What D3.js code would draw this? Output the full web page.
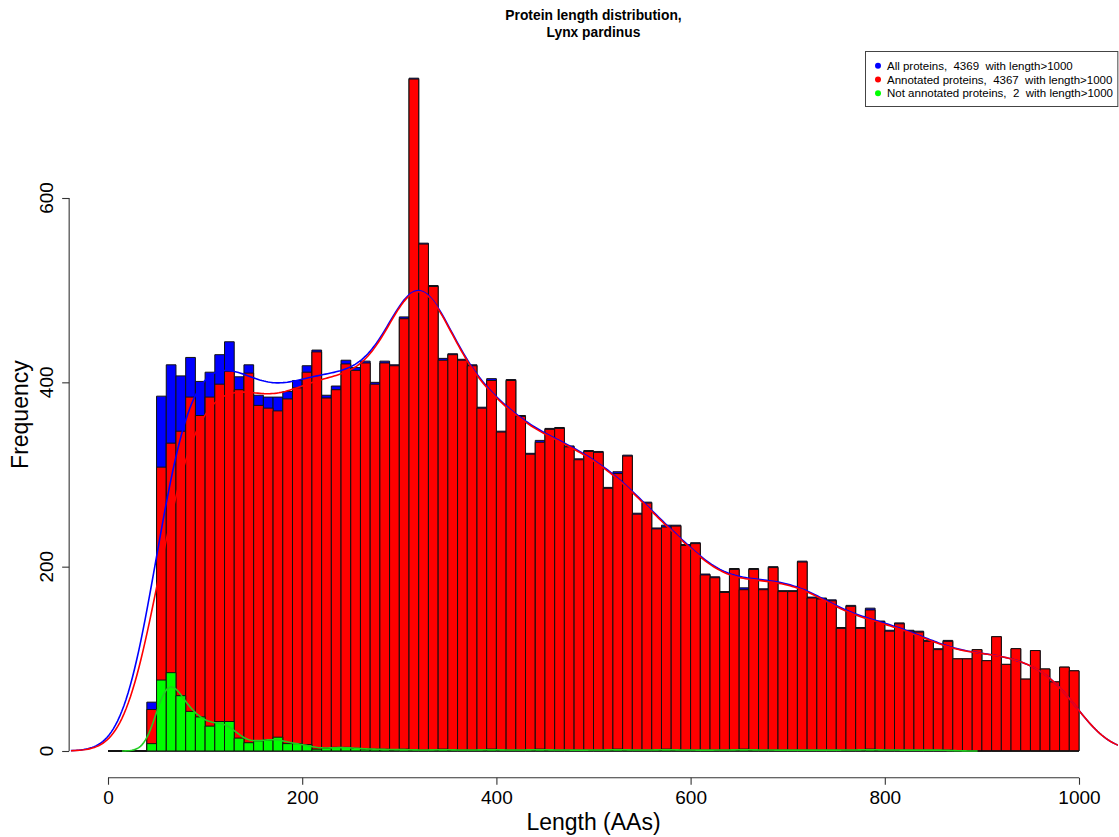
<!DOCTYPE html>
<html>
<head>
<meta charset="utf-8">
<script src="https://cdn.jsdelivr.net/npm/d3@7"></script>
<style>
  body { margin: 0; background: #fff; }
  text { font-family: "Liberation Sans", Arial, Helvetica, sans-serif; }
</style>
</head>
<body>
<svg id="chart" width="1119" height="837"></svg>
<script>
// Histogram breaks (bin width 10 AAs, 0..1000)
const breaks = d3.range(0, 1001, 10);

// Counts per bin
const allProteins = [
  0, 0, 0, 0, 53, 385, 419, 407, 427, 401,
  411, 430, 444, 406, 419, 386, 384, 384, 390, 402,
  418, 435, 386, 396, 424, 416, 423, 400, 423, 419,
  471, 730, 551, 505, 426, 431, 425, 419, 373, 404,
  347, 403, 364, 323, 337, 350, 351, 331, 317, 326,
  325, 286, 303, 321, 258, 270, 242, 245, 245, 224,
  226, 192, 189, 173, 198, 177, 198, 176, 200, 174,
  174, 206, 167, 166, 164, 134, 158, 134, 155, 141,
  131, 139, 131, 130, 120, 111, 120, 100, 100, 110,
  98, 124, 94, 111, 78, 109, 89, 75, 91, 87
];
const annotated = [
  0, 0, 0, 0, 45, 308, 334, 347, 384, 364,
  384, 398, 412, 392, 410, 375, 372, 369, 382, 394,
  411, 433, 383, 392, 420, 413, 421, 398, 421, 418,
  469, 729, 550, 504, 424, 430, 424, 418, 372, 402,
  346, 402, 363, 322, 335, 349, 350, 330, 316, 325,
  324, 285, 301, 320, 257, 269, 241, 243, 244, 223,
  225, 191, 188, 172, 197, 175, 197, 175, 199, 173,
  173, 205, 166, 165, 163, 133, 157, 133, 153, 140,
  130, 138, 130, 129, 119, 110, 119, 100, 100, 110,
  98, 124, 94, 111, 78, 109, 89, 75, 91, 87
];
const notAnnotated = [
  0, 0, 0, 0, 8, 77, 85, 60, 43, 37,
  27, 32, 32, 14, 9, 11, 12, 15, 8, 8,
  7, 2, 3, 4, 4, 3, 2, 2, 2, 1,
  2, 1, 1, 1, 2, 1, 1, 1, 1, 2,
  1, 1, 1, 1, 2, 1, 1, 1, 1, 1,
  1, 1, 2, 1, 1, 1, 1, 2, 1, 1,
  1, 1, 1, 1, 1, 2, 1, 1, 1, 1,
  1, 1, 1, 1, 1, 1, 1, 1, 2, 1,
  1, 1, 1, 1, 1, 1, 1, 0, 0, 0,
  0, 0, 0, 0, 0, 0, 0, 0, 0, 0
];

const xTicks = [0, 200, 400, 600, 800, 1000];
const yTicks = [0, 200, 400, 600];
const titleLines = ["Protein length distribution,", "Lynx pardinus"];
const legendLabels = [
  "All proteins,  4369  with length>1000",
  "Annotated proteins,  4367  with length>1000",
  "Not annotated proteins,  2  with length>1000"
];
const seriesColors = ["#0000ff", "#ff0000", "#00ff00"];
const lineColors = ["#0000ff", "#ff0000", "#22cc22"];
// Bandwidth multipliers for the density lines
const bwAdjust = [1, 1, 0.6];

const svg = d3.select("#chart");

// Scales: plot region spans x -40..1040, y -29..759
const x = d3.scaleLinear().domain([0, 1000]).range([108, 1079]);
const y = d3.scaleLinear().domain([0, 600]).range([751, 198]);
const region = { x0: x(-40), x1: x(1040), y0: y(759), y1: y(-29) };

svg.append("defs").append("clipPath").attr("id", "plotClip")
  .append("rect")
  .attr("x", region.x0).attr("y", region.y0)
  .attr("width", region.x1 - region.x0).attr("height", region.y1 - region.y0);

// Bars (drawn as paths so zero-height bins still show their outline)
function drawBars(counts, fill) {
  const bins = counts.map((c, i) => ({ x0: breaks[i], x1: breaks[i + 1], c }));
  svg.append("g").selectAll("path").data(bins).join("path")
    .attr("d", d => {
      const a = x(d.x0), b = x(d.x1), top = y(d.c), base = y(0);
      return `M${a},${base}V${top}H${b}V${base}Z`;
    })
    .attr("fill", fill)
    .attr("stroke", "#111")
    .attr("stroke-width", 1);
}
drawBars(allProteins, seriesColors[0]);
drawBars(annotated, seriesColors[1]);
drawBars(notAnnotated, seriesColors[2]);

// Gaussian kernel density of the binned lengths, scaled to frequency
function densityCurve(counts, adjust) {
  const mids = counts.map((c, i) => (breaks[i] + breaks[i + 1]) / 2);
  const sample = [];
  counts.forEach((c, i) => { for (let k = 0; k < c; k++) sample.push(mids[i]); });
  sample.sort(d3.ascending);
  const n = sample.length;
  const sd = d3.deviation(sample);
  const iqr = d3.quantileSorted(sample, 0.75) - d3.quantileSorted(sample, 0.25);
  const bw = adjust * 0.9 * Math.min(sd, iqr / 1.34) * Math.pow(n, -0.2);
  const lo = sample[0] - 3 * bw, hi = sample[n - 1] + 3 * bw;
  const pts = [];
  const steps = 511;
  for (let s = 0; s <= steps; s++) {
    const xv = lo + (hi - lo) * s / steps;
    let f = 0;
    counts.forEach((c, i) => {
      if (!c) return;
      const u = (xv - mids[i]) / bw;
      f += c * Math.exp(-0.5 * u * u);
    });
    f = f / (bw * Math.sqrt(2 * Math.PI)) * 10;
    pts.push([xv, f]);
  }
  return pts;
}

const line = d3.line().x(d => x(d[0])).y(d => y(d[1]));
const curves = svg.append("g").attr("clip-path", "url(#plotClip)");
[allProteins, annotated, notAnnotated].forEach((counts, k) => {
  curves.append("path")
    .attr("d", line(densityCurve(counts, bwAdjust[k])))
    .attr("fill", "none")
    .attr("stroke", lineColors[k])
    .attr("stroke-width", 1.6);
});

// Axes
const axisColor = "#333";
const xAxis = svg.append("g").attr("transform", `translate(0,${region.y1})`)
  .call(d3.axisBottom(x).tickValues(xTicks).tickSize(7).tickPadding(6).tickFormat(d3.format("d")));
xAxis.select(".domain").attr("d", `M${x(0)},0H${x(1000)}`)
  .attr("stroke", axisColor).attr("stroke-width", 1.1);
xAxis.selectAll(".tick line").attr("stroke", axisColor).attr("stroke-width", 1.1);
xAxis.selectAll(".tick text").attr("fill", "#000").style("font-size", "19px")
  .style("font-family", "'Liberation Sans', Arial, sans-serif");

const yAxis = svg.append("g").attr("transform", `translate(${region.x0},0)`)
  .call(d3.axisLeft(y).tickValues(yTicks).tickSize(7).tickFormat(() => ""));
yAxis.select(".domain").attr("d", `M0,${y(0)}V${y(600)}`)
  .attr("stroke", axisColor).attr("stroke-width", 1.1);
yAxis.selectAll(".tick line").attr("stroke", axisColor).attr("stroke-width", 1.1);
yAxis.selectAll(".tick text").remove();
// Rotated y tick labels (reading upwards, parallel to the axis)
svg.append("g").selectAll("text").data(yTicks).join("text")
  .attr("transform", d => `translate(53,${y(d)}) rotate(-90)`)
  .attr("text-anchor", "middle")
  .style("font-size", "19px")
  .text(d => d);

// Axis titles
svg.append("text")
  .attr("x", (x(0) + x(1000)) / 2).attr("y", 830)
  .attr("text-anchor", "middle").style("font-size", "23px")
  .text("Length (AAs)");
svg.append("text")
  .attr("transform", `translate(28,${(region.y0 + region.y1) / 2}) rotate(-90)`)
  .attr("text-anchor", "middle").style("font-size", "23px")
  .text("Frequency");

// Title
titleLines.forEach((t, i) => {
  svg.append("text")
    .attr("x", (x(0) + x(1000)) / 2).attr("y", 20 + i * 17)
    .attr("text-anchor", "middle")
    .style("font-size", "13.8px").style("font-weight", "bold")
    .text(t);
});

// Legend (top right, inside plot region)
const lg = svg.append("g");
lg.append("rect")
  .attr("x", 865.5).attr("y", 51.5).attr("width", region.x1 - 865.5).attr("height", 55)
  .attr("fill", "#fff").attr("stroke", "#444").attr("stroke-width", 1);
legendLabels.forEach((t, i) => {
  const cy = 65.7 + i * 13.8;
  lg.append("circle").attr("cx", 878).attr("cy", cy).attr("r", 3).attr("fill", seriesColors[i]);
  lg.append("text").attr("x", 887).attr("y", cy + 4)
    .style("font-size", "11.5px").style("white-space", "pre")
    .text(t);
});
</script>
</body>
</html>
